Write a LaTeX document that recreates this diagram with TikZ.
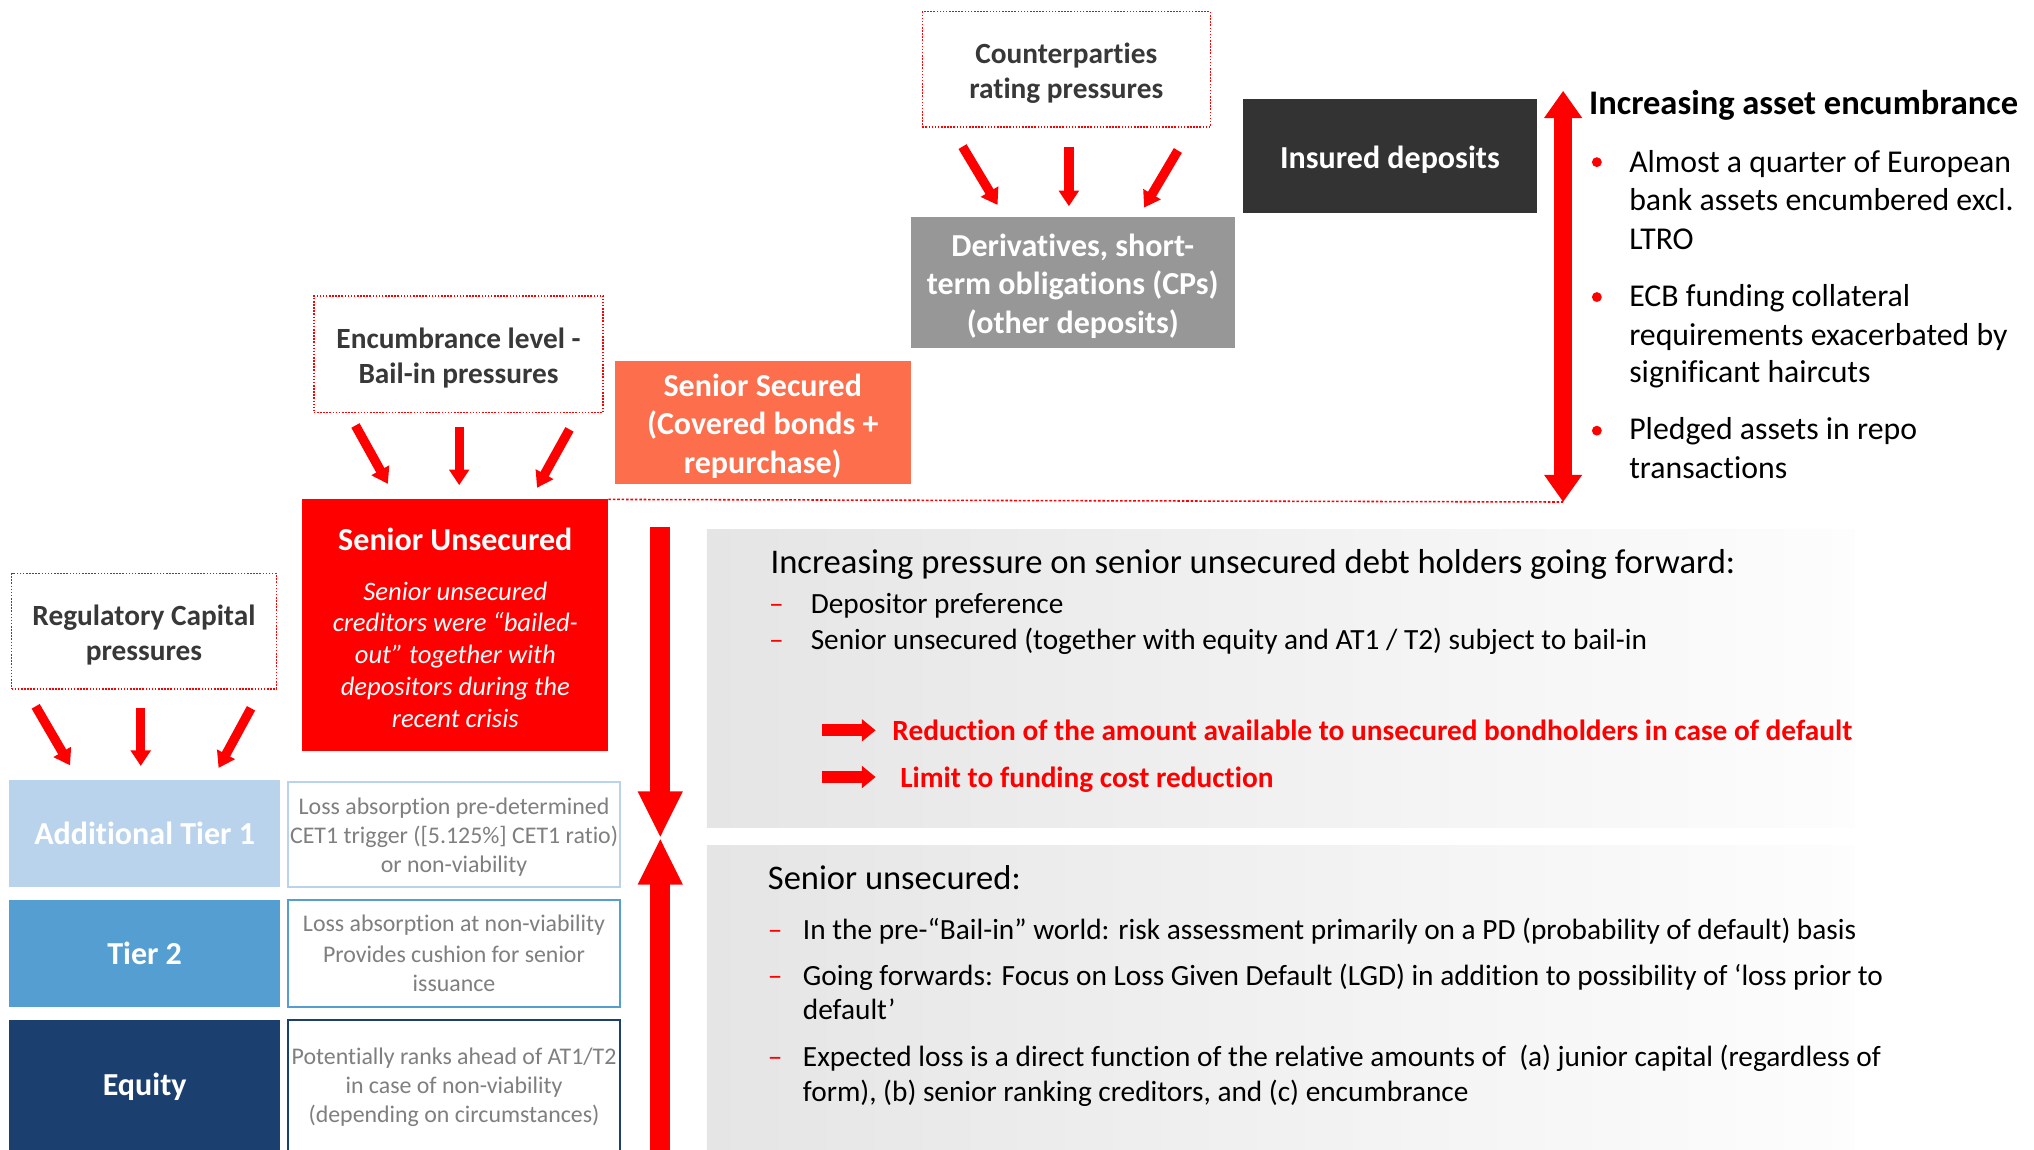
\documentclass[tikz,border=0pt]{standalone}
\usepackage{fontspec}
\setmainfont{Carlito}[Ligatures=NoCommon]
\usetikzlibrary{arrows.meta}
\definecolor{myred}{RGB}{255,0,0}
\definecolor{coral}{RGB}{252,110,76}
\definecolor{midgray}{RGB}{151,151,151}
\definecolor{darkbox}{RGB}{51,51,51}
\definecolor{lblue}{RGB}{186,211,236}
\definecolor{mblue}{RGB}{85,158,210}
\definecolor{dblue}{RGB}{27,63,110}
\definecolor{darktxt}{RGB}{56,56,56}
\definecolor{desctxt}{RGB}{127,127,127}
\definecolor{panelgray}{RGB}{229,229,229}
\definecolor{panelend}{RGB}{253,253,253}
% name, x1, y1, x2, y2, box style, text style, text
\newcommand\mkbox[8]{%
  \pgfmathsetmacro\mkbw{#4-#2}\pgfmathsetmacro\mkbh{#5-#3}%
  \pgfmathsetmacro\mkbcx{(#2+#4)/2}\pgfmathsetmacro\mkbcy{(#3+#5)/2}%
  \node[#6, minimum width=\mkbw pt, minimum height=\mkbh pt, inner sep=0pt, outer sep=0pt] (#1) at (\mkbcx,\mkbcy) {};%
  \node[#7, inner sep=0pt, outer sep=0pt] (#1t) at (#1.center) {#8};}
\newcommand\tl[4]{\node[txt,#4] (#1) at (#2) {#3};}
\tikzset{
  txt/.style={anchor=base west, inner sep=0pt, outer sep=0pt},
  pressbox/.style={draw=myred, line width=1.2pt, dash pattern=on 1.2pt off 1.2pt, fill=white},
  presstxt/.style={text=darktxt, align=center, font=\fontsize{22.6}{27.3}\selectfont\bfseries, yshift=-3pt},
  whitelbl/.style={text=white, align=center, font=\fontsize{24.7}{29.6}\selectfont\bfseries},
  descbox/.style={fill=white, line width=1.5pt},
  desc/.style={text=desctxt, align=center, font=\fontsize{18.4}{22.3}\selectfont, yshift=-2pt},
  parrow/.style={draw=myred, line width=7.2pt, -{Triangle[width=15pt,length=12pt]}},
  bigarrow/.style={draw=myred, line width=15.4pt, -{Triangle[width=32pt,length=36pt]}},
  blockarrow/.style={draw=myred, line width=9pt, -{Triangle[width=16.5pt,length=10.5pt]}},
  encarrow/.style={draw=myred, line width=13.4pt, {Triangle[width=28pt,length=21pt]}-{Triangle[width=28pt,length=21pt]}},
  bodytxt/.style={font=\fontsize{22.6}{27}\selectfont},
  redtxt/.style={text=myred, font=\fontsize{22.6}{27}\selectfont\bfseries},
  dashmark/.style={text=myred, font=\fontsize{22.6}{27}\selectfont},
  bullettxt/.style={font=\fontsize{24.5}{29}\selectfont},
}
\begin{document}
\begin{tikzpicture}[x=1pt,y=-1pt]
\useasboundingbox (0,0) rectangle (1568,886);
\clip (0,0) rectangle (1568,886);
% gradient panels
\shade[left color=panelgray, right color=panelend] (545,408) rectangle (1430,638);
\shade[left color=panelgray, right color=panelend] (545,652) rectangle (1430,900);

% top pressure boxes
\mkbox{cp}{711}{9}{933}{98}{pressbox}{presstxt}{Counterparties\\rating pressures}
\mkbox{enc}{242}{228}{465}{318}{pressbox}{presstxt}{Encumbrance level -\\Bail-in pressures}
\mkbox{reg}{9}{442}{213}{531}{pressbox}{presstxt}{Regulatory Capital\\pressures}

% liability boxes
\mkbox{deriv}{702}{167}{952}{268}{fill=midgray}{whitelbl, yshift=-3pt}{Derivatives, short-\\term obligations (CPs)\\(other deposits)}
\mkbox{ins}{958}{76}{1185}{164}{fill=darkbox}{whitelbl, yshift=-3pt}{Insured deposits}
\mkbox{ssec}{474}{278}{702}{373}{fill=coral}{whitelbl, yshift=-3pt}{Senior Secured\\(Covered bonds +\\repurchase)}
\mkbox{suns}{233}{385}{469}{579}{fill=myred}{whitelbl, yshift=66pt}{Senior Unsecured}
\node[text=white, align=center, inner sep=0pt, font=\fontsize{20.5}{24.5}\selectfont\itshape] (sunsD) at (351,504.5)
  {Senior unsecured\\creditors were “bailed-\\out” together with\\depositors during the\\recent crisis};

\mkbox{at1}{7}{601}{216}{684}{fill=lblue}{whitelbl}{Additional Tier 1}
\mkbox{t2}{7}{694}{216}{776}{fill=mblue}{whitelbl}{Tier 2}
\mkbox{eq}{7}{786}{216}{890}{fill=dblue}{whitelbl}{Equity}

\mkbox{at1d}{222}{603}{478}{684}{descbox, draw=lblue}{desc}{Loss absorption pre-determined\\CET1 trigger ([5.125\%] CET1 ratio)\\or non-viability}
\mkbox{t2d}{222}{694}{478}{776}{descbox, draw=mblue}{desc, yshift=2pt}{Loss absorption at non-viability\\[2pt]Provides cushion for senior\\issuance}
\mkbox{eqd}{222}{786}{478}{890}{descbox, draw=dblue}{desc, yshift=2pt}{Potentially ranks ahead of AT1/T2\\in case of non-viability\\(depending on circumstances)}

% pressure arrows
\coordinate (cpA1) at (742,113); \coordinate (cpB1) at (769,158);
\coordinate (cpA2) at (824,113); \coordinate (cpB2) at (824,159);
\coordinate (cpA3) at (908,116); \coordinate (cpB3) at (882,160);
\draw[parrow] (cpA1) -- (cpB1);
\draw[parrow] (cpA2) -- (cpB2);
\draw[parrow] (cpA3) -- (cpB3);
\coordinate (enA1) at (274,328); \coordinate (enB1) at (299,373);
\coordinate (enA2) at (354,329); \coordinate (enB2) at (354,374);
\coordinate (enA3) at (439,331); \coordinate (enB3) at (414,376);
\draw[parrow] (enA1) -- (enB1);
\draw[parrow] (enA2) -- (enB2);
\draw[parrow] (enA3) -- (enB3);
\coordinate (rgA1) at (27.5,544.5); \coordinate (rgB1) at (54,590);
\coordinate (rgA2) at (108.5,545.5); \coordinate (rgB2) at (108.5,590.5);
\coordinate (rgA3) at (193.5,546); \coordinate (rgB3) at (168.5,592);
\draw[parrow] (rgA1) -- (rgB1);
\draw[parrow] (rgA2) -- (rgB2);
\draw[parrow] (rgA3) -- (rgB3);

% encumbrance arrow and dotted line
\coordinate (encTop) at (1205,70);
\coordinate (encBot) at (1205,387);
\draw[myred, line width=1.2pt, dash pattern=on 2pt off 1.4pt] (suns.north east) -- (encBot);
\draw[encarrow] (encTop) -- (encBot);

% big vertical arrows
\coordinate (vTop) at (509,406);
\coordinate (vMid) at (509,646);
\coordinate (vBot) at (509,900);
\draw[bigarrow] (vTop) -- (vMid);
\draw[bigarrow] (vBot) -- (vMid);

% right column text
\tl{encH}{1225,88}{Increasing asset encumbrance}{font=\fontsize{26.6}{30}\selectfont\bfseries}
\fill[myred] (1231,125) circle (3.8pt);
\fill[myred] (1231,229) circle (3.8pt);
\fill[myred] (1231,332) circle (3.8pt);
\tl{b1a}{1256,133}{Almost a quarter of European}{bullettxt}
\tl{b1b}{1256,162}{bank assets encumbered excl.}{bullettxt}
\tl{b1c}{1256,192}{LTRO}{bullettxt}
\tl{b2a}{1256,236}{ECB funding collateral}{bullettxt}
\tl{b2b}{1256,266}{requirements exacerbated by}{bullettxt}
\tl{b2c}{1256,295}{significant haircuts}{bullettxt}
\tl{b3a}{1256,339}{Pledged assets in repo}{bullettxt}
\tl{b3b}{1256,369}{transactions}{bullettxt}

% panel 1 text
\tl{p1h}{594,442}{Increasing pressure on senior unsecured debt holders going forward:}{font=\fontsize{26.7}{30}\selectfont}
\tl{p1d1}{593,473}{–}{dashmark}
\tl{p1a}{625,473}{Depositor preference}{bodytxt}
\tl{p1d2}{593,501}{–}{dashmark}
\tl{p1b}{625,501}{Senior unsecured (together with equity and AT1 / T2) subject to bail-in}{bodytxt}
\coordinate (ba1s) at (634,563); \coordinate (ba1e) at (675,563);
\coordinate (ba2s) at (634,599); \coordinate (ba2e) at (675,599);
\draw[blockarrow] (ba1s) -- (ba1e);
\draw[blockarrow] (ba2s) -- (ba2e);
\tl{p1r1}{688,571}{Reduction of the amount available to unsecured bondholders in case of default}{redtxt}
\tl{p1r2}{694,607}{Limit to funding cost reduction}{redtxt}

% panel 2 text
\tl{p2h}{592,686}{Senior unsecured:}{font=\fontsize{26.6}{30}\selectfont}
\tl{p2d1}{592,724}{–}{dashmark}
\tl{p2a}{619,724}{In the pre-“Bail-in” world: risk assessment primarily on a PD (probability of default) basis}{bodytxt}
\tl{p2d2}{592,759.5}{–}{dashmark}
\tl{p2b}{619,759.5}{Going forwards: Focus on Loss Given Default (LGD) in addition to possibility of ‘loss prior to}{bodytxt}
\tl{p2b2}{619,786}{default’}{bodytxt}
\tl{p2d3}{592,822}{–}{dashmark}
\tl{p2c}{619,822}{Expected loss is a direct function of the relative amounts of \ (a) junior capital (regardless of}{bodytxt}
\tl{p2c2}{619,849}{form), (b) senior ranking creditors, and (c) encumbrance}{bodytxt}
\end{tikzpicture}
\end{document}
